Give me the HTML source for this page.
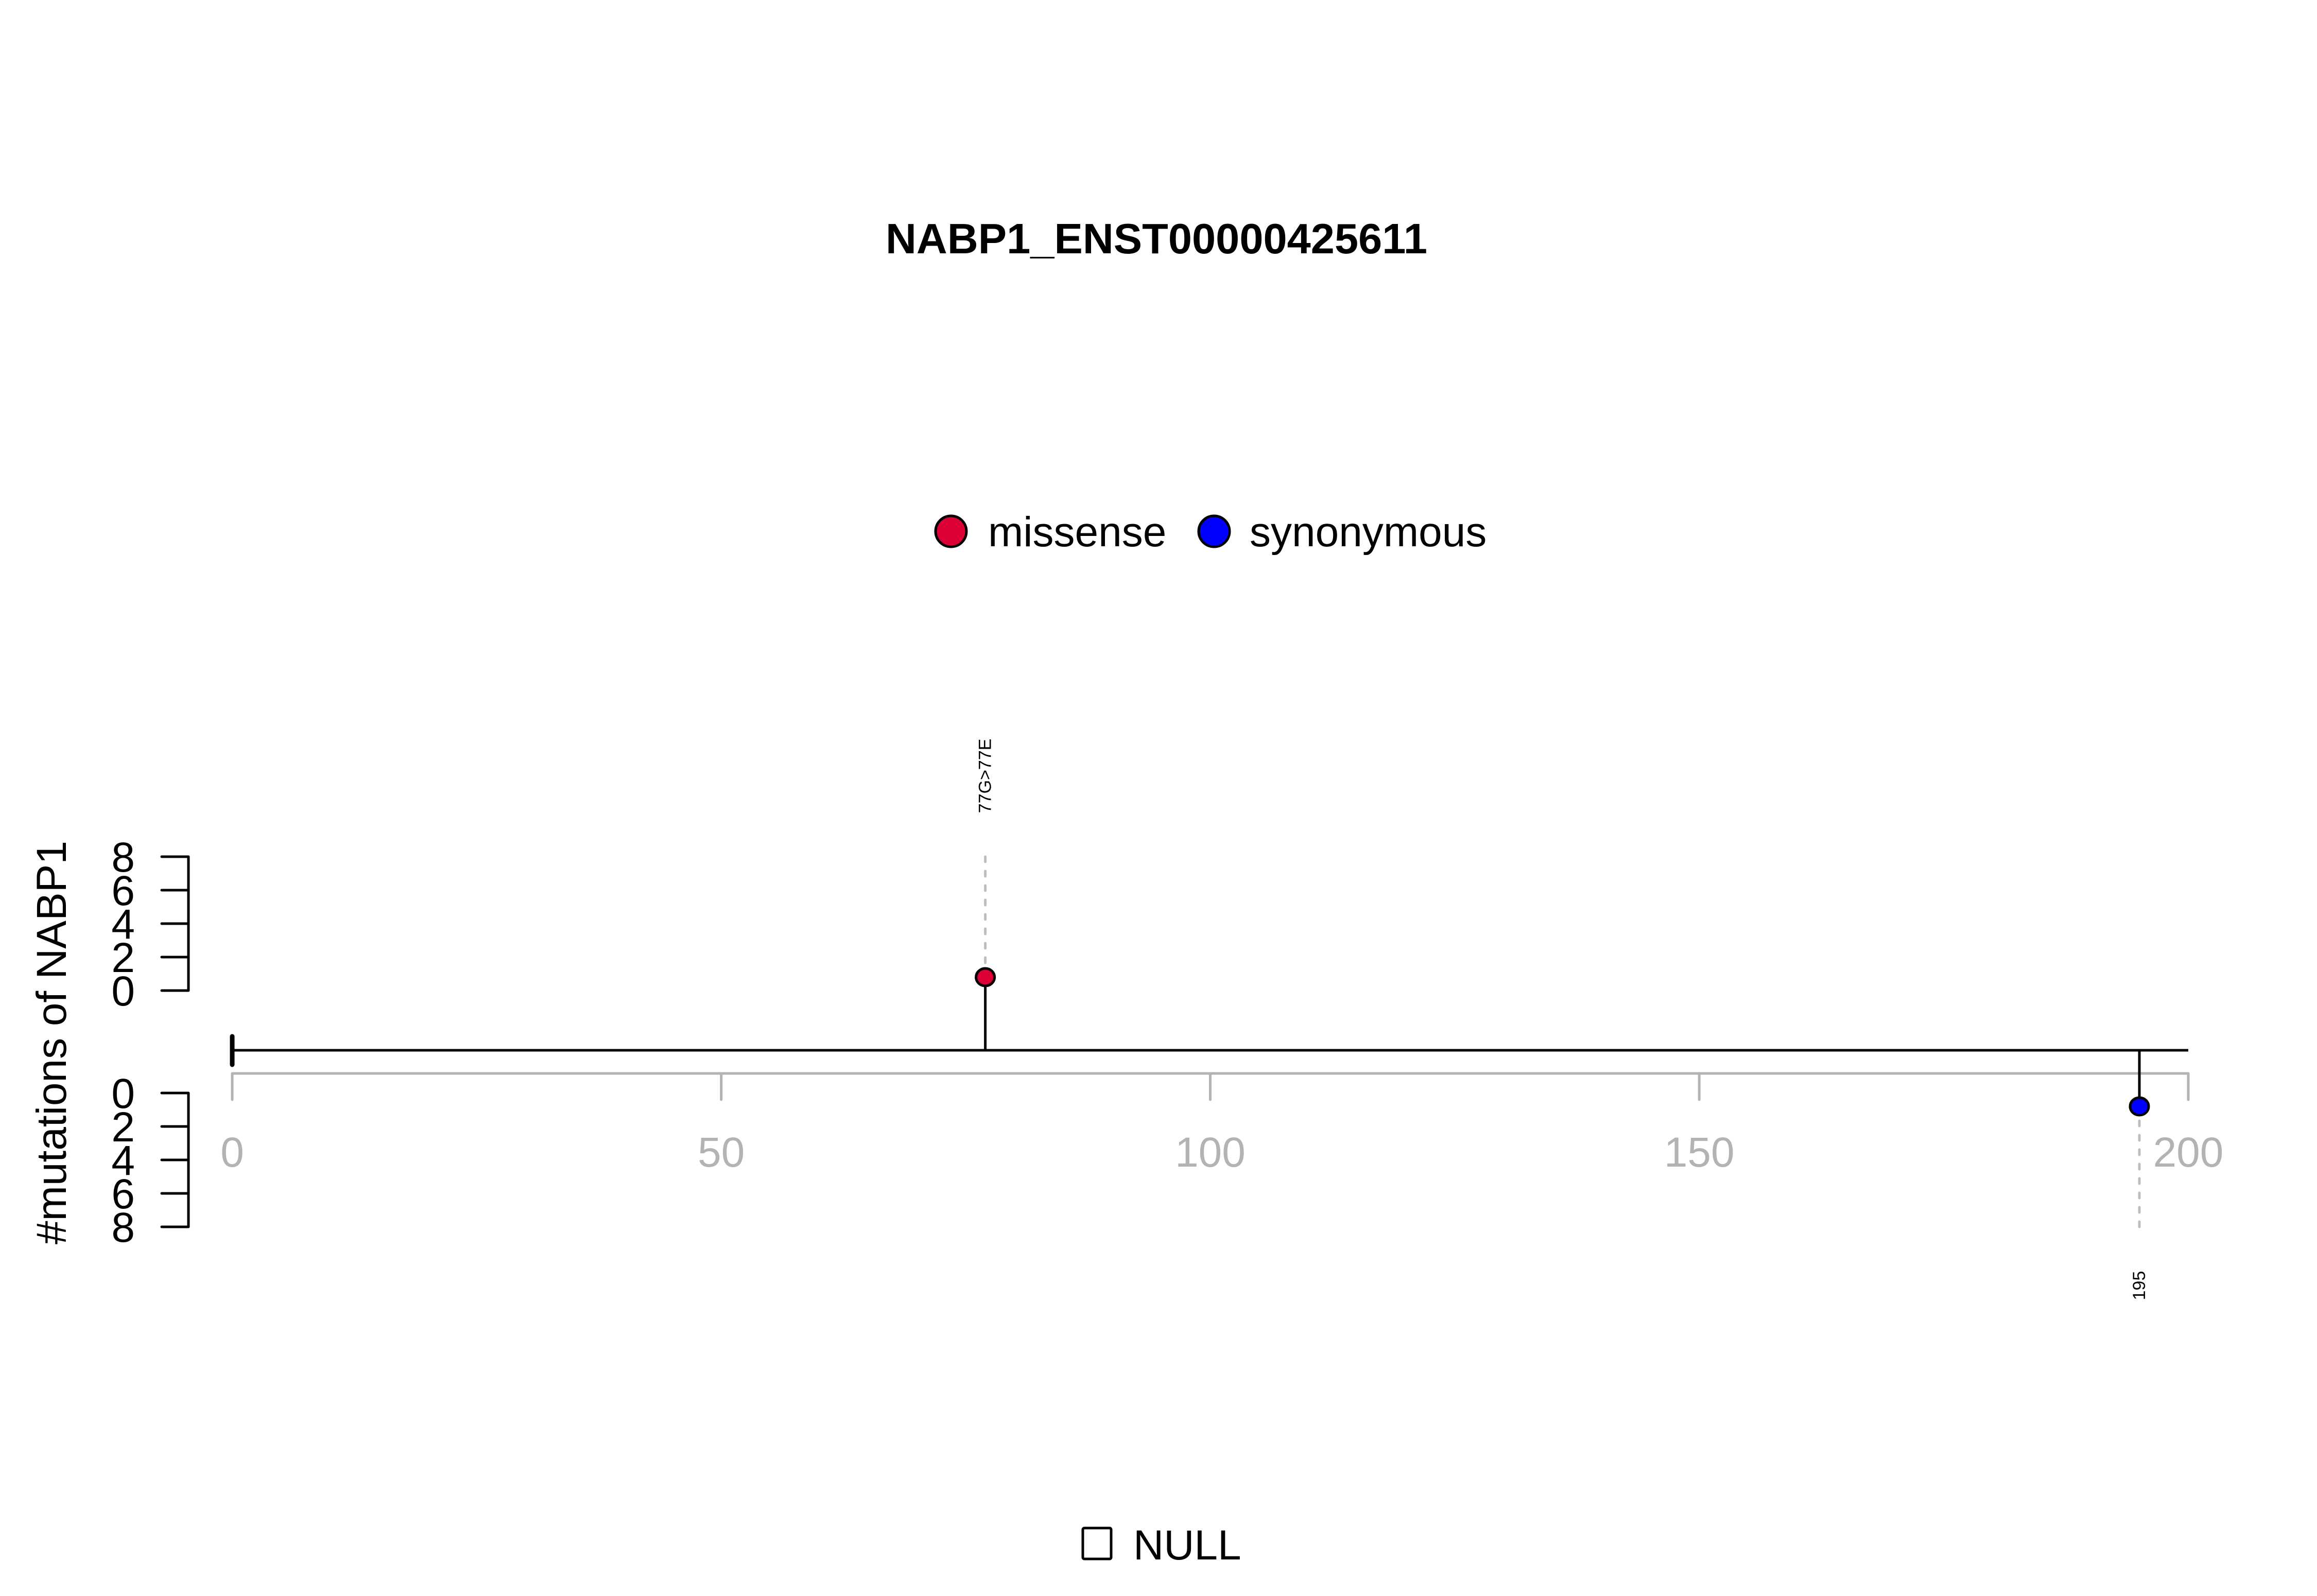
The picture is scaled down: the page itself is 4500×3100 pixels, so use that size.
<!DOCTYPE html>
<html>
<head>
<meta charset="utf-8">
<style>
  html, body { margin: 0; padding: 0; background: #ffffff; }
  svg { display: block; }
  text { font-family: "Liberation Sans", Arial, sans-serif; }
</style>
</head>
<body>
<svg id="chart" xmlns="http://www.w3.org/2000/svg" width="4500" height="3100" viewBox="0 0 4500 3100">
  <rect x="0" y="0" width="4500" height="3100" fill="#ffffff"/>
  <text x="2246" y="492" font-size="83" font-weight="bold" text-anchor="middle">NABP1_ENST00000425611</text>

  <g>
    <g>
      <ellipse cx="1847" cy="1032" rx="30" ry="30" fill="#DC0037" stroke="#000" stroke-width="5"/>
      <text x="1919" y="1061" font-size="82">missense</text>
    </g>
    <g>
      <ellipse cx="2358" cy="1032" rx="30" ry="30" fill="#0000FF" stroke="#000" stroke-width="5"/>
      <text x="2427" y="1061" font-size="82">synonymous</text>
    </g>
  </g>

  <text transform="translate(128,2025) rotate(-90)" font-size="82" text-anchor="middle">#mutations of NABP1</text>

  <g id="plot"></g>

  <g>
    <rect x="2103" y="2968" width="55" height="60" rx="3" fill="none" stroke="#000" stroke-width="5"/>
    <text x="2201" y="3029" font-size="82">NULL</text>
  </g>
</svg>
<script>
// ---- data ----
const xTicks = [0, 50, 100, 150, 200];
const yTicks = [0, 2, 4, 6, 8];
const mutPositions = [77, 195];
const mutCounts = [0.8, 0.8];
const mutSide = ["up", "down"];
const mutColors = ["#DC0037", "#0000FF"];
const mutLabels = ["77G>77E", "195"];
const proteinLength = [0, 200];

// ---- scales ----
const X0 = 451, X1 = 4250;
function xs(v) { return X0 + (v - 0) / (200 - 0) * (X1 - X0); }
const UP0 = 1924, UP8 = 1664, DN0 = 2123, DN8 = 2383;
function yUp(v) { return UP0 + (UP8 - UP0) * v / 8; }
function yDn(v) { return DN0 + (DN8 - DN0) * v / 8; }
const BACK_Y = 2040, AXIS_Y = 2085, AXIS_X = 366;

const NS = "http://www.w3.org/2000/svg";
const plot = document.getElementById("plot");
function mk(tag, attrs, parent) {
  const e = document.createElementNS(NS, tag);
  for (const k in attrs) e.setAttribute(k, attrs[k]);
  (parent || plot).appendChild(e);
  return e;
}

// y axes
[["up", yUp], ["down", yDn]].forEach(([side, f]) => {
  const g = mk("g", {});
  
  
  mk("line", { x1: AXIS_X, x2: AXIS_X, y1: f(yTicks[0]), y2: f(yTicks[yTicks.length - 1]), stroke: "#000", "stroke-width": 5 }, g);
  yTicks.forEach(t => {
    const tl = mk("line", { x1: AXIS_X, x2: 314, y1: f(t), y2: f(t), stroke: "#000", "stroke-width": 5, "stroke-linecap": "round" }, g);
    
    
    const tx = mk("text", { x: 262, y: f(t) + 29, "font-size": 82, "text-anchor": "end" }, g);
    tx.textContent = String(t);
    
    
  });
});

// x axis (gray)
const xg = mk("g", {});


mk("line", { x1: xs(xTicks[0]), x2: xs(xTicks[xTicks.length - 1]), y1: AXIS_Y, y2: AXIS_Y, stroke: "#b3b3b3", "stroke-width": 5 }, xg);
xTicks.forEach(t => {
  const tl = mk("line", { x1: xs(t), x2: xs(t), y1: AXIS_Y, y2: 2136, stroke: "#b3b3b3", "stroke-width": 5, "stroke-linecap": "round" }, xg);
  
  
  const tx = mk("text", { x: xs(t), y: 2266, "font-size": 82, "text-anchor": "middle", fill: "#b3b3b3" }, xg);
  tx.textContent = String(t);
  
  
});

// protein backbone
const bb = mk("line", { x1: xs(proteinLength[0]), x2: xs(proteinLength[1]), y1: BACK_Y, y2: BACK_Y, stroke: "#000", "stroke-width": 5 });


const cap = mk("line", { x1: xs(proteinLength[0]), x2: xs(proteinLength[0]), y1: 2013, y2: 2068, stroke: "#000", "stroke-width": 9, "stroke-linecap": "round" });



// lollipops
mutPositions.forEach((p, i) => {
  const up = mutSide[i] === "up";
  const x = xs(p);
  const cy = up ? yUp(mutCounts[i]) : yDn(mutCounts[i]);
  const g = mk("g", {});
  
  
  const dashEnd = up ? yUp(8) - 11 : yDn(8) + 14;
  mk("line", { x1: x, x2: x, y1: cy, y2: dashEnd, stroke: "#bdbdbd", "stroke-width": 5, "stroke-dasharray": "10 18", "stroke-linecap": "round" }, g);
  mk("line", { x1: x, x2: x, y1: BACK_Y, y2: cy, stroke: "#000", "stroke-width": 5 }, g);
  const c = mk("ellipse", { cx: x, cy: cy, rx: 18, ry: 17, fill: mutColors[i], stroke: "#000", "stroke-width": 5 }, g);
  
  
  const ly = up ? 1507 : 2497;
  const t = mk("text", { transform: "translate(" + (x + 11) + "," + ly + ") rotate(-90)", "font-size": 34, "text-anchor": "middle" }, g);
  t.textContent = mutLabels[i];
  
  
});
</script>
</body>
</html>
